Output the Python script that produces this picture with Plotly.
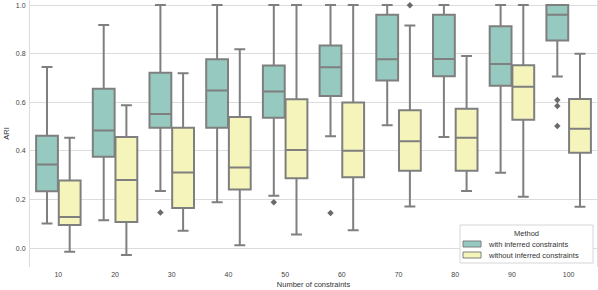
import plotly.graph_objects as go

categories = ["10", "20", "30", "40", "50", "60", "70", "80", "90", "100"]

# with inferred constraints
with_lo  = [0.101, 0.114, 0.235, 0.189, 0.215, 0.460, 0.505, 0.457, 0.310, 0.706]
with_q1  = [0.234, 0.376, 0.495, 0.495, 0.536, 0.626, 0.690, 0.707, 0.668, 0.854]
with_med = [0.344, 0.484, 0.552, 0.649, 0.644, 0.744, 0.777, 0.778, 0.758, 0.960]
with_q3  = [0.462, 0.656, 0.722, 0.777, 0.751, 0.834, 0.960, 0.960, 0.913, 1.000]
with_hi  = [0.745, 0.918, 1.000, 1.000, 1.000, 1.000, 1.000, 1.000, 1.000, 1.000]
with_out_cat = [2, 4, 5, 9, 9, 9]
with_out_val = [0.146, 0.189, 0.144, 0.609, 0.585, 0.502]

# without inferred constraints
wo_lo  = [-0.015, -0.029, 0.071, 0.012, 0.056, 0.073, 0.171, 0.235, 0.211, 0.170]
wo_q1  = [0.095, 0.107, 0.165, 0.241, 0.287, 0.291, 0.318, 0.318, 0.528, 0.392]
wo_med = [0.128, 0.280, 0.311, 0.332, 0.404, 0.400, 0.440, 0.454, 0.664, 0.491]
wo_q3  = [0.278, 0.457, 0.495, 0.539, 0.612, 0.599, 0.567, 0.573, 0.752, 0.613]
wo_hi  = [0.454, 0.588, 0.720, 0.818, 1.000, 1.000, 0.916, 0.790, 1.000, 0.800]
wo_out_cat = [6]
wo_out_val = [0.999]

series_names = ["with inferred constraints", "without inferred constraints"]
legend_title = "Method"
y_ticks = [0.0, 0.2, 0.4, 0.6, 0.8, 1.0]
colors = ["#96c9bf", "#f5f5bb"]
line_col = "#7f7f7f"
font_fam = "Liberation Sans, Arial, sans-serif"

W, H = 598, 290
ML, MR, MT, MB = 30, 1, 0, 23
PW, PH = W - ML - MR, H - MT - MB

def px(x):
    return (x - ML) / PW

def py(y):
    return (H - MB - y) / PH

offset = 0.2
bw = 0.385

fig = go.Figure()
stats = [
    (with_lo, with_q1, with_med, with_q3, with_hi, with_out_cat, with_out_val),
    (wo_lo, wo_q1, wo_med, wo_q3, wo_hi, wo_out_cat, wo_out_val),
]
for k, (lo, q1, med, q3, hi, oc, ov) in enumerate(stats):
    sign = -1 if k == 0 else 1
    xs = [i + sign * offset for i in range(len(categories))]
    fig.add_trace(go.Box(
        x=xs, q1=q1, median=med, q3=q3, lowerfence=lo, upperfence=hi,
        name=series_names[k], fillcolor=colors[k],
        line=dict(color=line_col, width=2), whiskerwidth=0.5,
        width=bw, boxpoints=False, hoverinfo="skip", showlegend=False,
    ))
    fig.add_trace(go.Scatter(
        x=[c + sign * offset for c in oc], y=ov, mode="markers",
        marker=dict(symbol="diamond", size=5, color="#6a6a6a"),
        showlegend=False, hoverinfo="skip", cliponaxis=False,
    ))

# manual legend (seaborn style)
shapes = [dict(type="rect", xref="paper", yref="paper",
               x0=px(460), x1=px(593), y0=py(263), y1=py(225),
               fillcolor="white", line=dict(color="#d6d6d6", width=1), layer="above")]
annotations = [dict(text=legend_title, xref="paper", yref="paper",
                    x=px(526), y=py(233), xanchor="center", yanchor="middle",
                    showarrow=False, font=dict(size=7.5, color="#333333"))]
for k, yc in enumerate([244, 255]):
    shapes.append(dict(type="rect", xref="paper", yref="paper",
                       x0=px(463), x1=px(481), y0=py(yc + 3), y1=py(yc - 3),
                       fillcolor=colors[k], line=dict(color=line_col, width=1), layer="above"))
    annotations.append(dict(text=series_names[k], xref="paper", yref="paper",
                            x=px(486), y=py(yc), xanchor="left", yanchor="middle",
                            showarrow=False, font=dict(size=7.5, color="#333333")))

fig.update_layout(
    width=W, height=H,
    margin=dict(l=ML, r=MR, t=MT, b=MB),
    paper_bgcolor="white", plot_bgcolor="white",
    font=dict(family=font_fam, size=7.5, color="#444444"),
    showlegend=False,
    shapes=shapes, annotations=annotations,
    xaxis=dict(
        range=[-0.5, len(categories) - 0.5],
        tickmode="array", tickvals=list(range(len(categories))), ticktext=categories,
        showgrid=False, zeroline=False, showline=False, ticks="",
        ticklabelstandoff=2,
        title=dict(text="Number of constraints", standoff=4, font=dict(size=7.5, color="#333333")),
        tickfont=dict(size=7, color="#444444"),
        automargin=False,
    ),
    yaxis=dict(
        range=[-0.078, 1.021],
        tickvals=y_ticks, ticktext=[f"{v:.1f}" for v in y_ticks],
        showgrid=True, gridcolor="#dcdcdc", gridwidth=1, zeroline=False,
        showline=True, linecolor="#dcdcdc", linewidth=1, mirror=True, ticks="",
        ticklabelstandoff=2,
        title=dict(text="ARI", standoff=5, font=dict(size=7.5, color="#333333")),
        tickfont=dict(size=7, color="#444444"),
        automargin=False,
    ),
)

fig.write_html("out.html", config={"displayModeBar": False},
               post_script="document.body.style.margin='0';document.body.style.overflow='hidden';")
